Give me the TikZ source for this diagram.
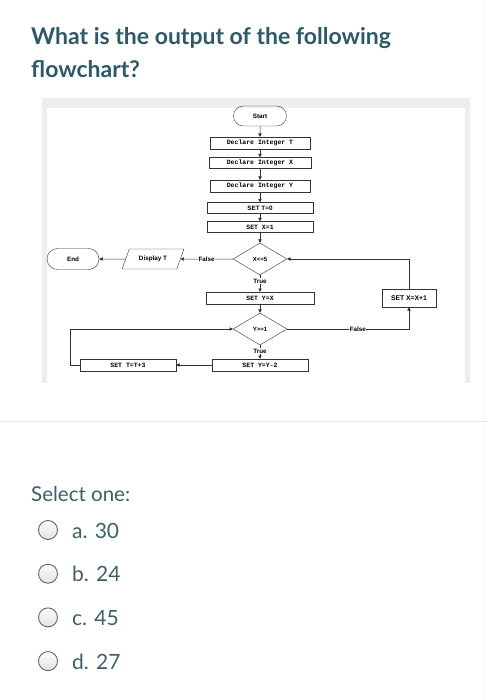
\documentclass[tikz,border=0pt]{standalone}
\usepackage{fontspec}
\setmainfont{Lato}
\newfontfamily\chartsans{Liberation Sans}
\newfontfamily\chartmono{Liberation Mono}
\usetikzlibrary{shapes.geometric,shapes.misc,arrows.meta}

\definecolor{titleteal}{HTML}{2D5A68}
\definecolor{bodyteal}{HTML}{3D5F6B}
\definecolor{framegray}{HTML}{EEEEEE}
\definecolor{linegray}{HTML}{333333}

\tikzset{
	terminal/.style={draw=linegray, rounded rectangle, minimum width=53pt, minimum height=20pt,
		inner sep=0pt, font=\chartsans\bfseries\fontsize{6.3}{7}\selectfont},
	monobox/.style={draw=linegray, rectangle, minimum height=12pt, inner sep=0pt,
		font=\chartmono\bfseries\fontsize{6.5}{7}\selectfont},
	sansbox/.style={draw=linegray, rectangle, minimum height=12pt, inner sep=0pt,
		font=\chartsans\bfseries\fontsize{6.3}{7}\selectfont},
	decision/.style={draw=linegray, diamond, minimum width=54pt, minimum height=32pt,
		inner sep=0pt, font=\chartsans\bfseries\fontsize{6}{7}\selectfont},
	iobox/.style={draw=linegray, trapezium, trapezium stretches=true,
		trapezium left angle=60, trapezium right angle=120,
		minimum width=62pt, minimum height=20pt, inner sep=1pt,
		font=\chartsans\bfseries\fontsize{6.3}{7}\selectfont},
	lbl/.style={fill=white, inner sep=0.5pt, font=\chartsans\bfseries\fontsize{6.3}{7}\selectfont},
	arr/.style={draw=linegray, line width=0.5pt, -{Triangle[length=3.3pt,width=3.3pt]}},
	radio/.style={draw=gray!80!black, circle, minimum size=19pt, inner sep=0pt, line width=0.9pt,
		top color=white, bottom color=gray!25},
}

\begin{document}
\begin{tikzpicture}[x=1pt, y=-1pt]
		\useasboundingbox (0,0) rectangle (489,700);
		\fill[white] (0,0) rectangle (489,700);
		\draw[gray!6] (483.5,0) -- (483.5,700);

		% question
		\node[anchor=base west, inner sep=0pt, text=titleteal, font=\bfseries\fontsize{23}{28}\selectfont]
			(question) at (31,45) {What is the output of the following};
		\node[anchor=base west, inner sep=0pt, text=titleteal, font=\bfseries\fontsize{23}{28}\selectfont]
			(question2) at (31,78) {flowchart?};

		% picture frame
		\fill[framegray] (42,98) rectangle (470,383);
		\fill[white] (47,108) rectangle (465,383);

		% flowchart
		\node[terminal] (start) at (260,116) {Start};
		\node[monobox, minimum width=100pt] (decT) at (260,143) {Declare Integer T};
		\node[monobox, minimum width=102pt, minimum height=11pt] (decX) at (260,163) {Declare Integer X};
		\node[monobox, minimum width=100pt] (decY) at (260,186) {Declare Integer Y};
		\node[sansbox, minimum width=106pt, minimum height=11pt] (setT) at (260,208) {SET T=0};
		\node[monobox, minimum width=106pt, minimum height=11pt] (setX) at (260,227) {SET X=1};
		\node[decision] (condX) at (260,259) {X<=5};
		\node[monobox, minimum width=108pt] (setY) at (260,298) {SET Y=X};
		\node[decision] (condY) at (260,329) {Y>=1};
		\node[monobox, minimum width=96pt] (setYY) at (260,365) {SET Y=Y-2};
		\node[monobox, minimum width=96pt] (setTT) at (128,365) {SET T=T+3};
		\node[sansbox, minimum width=54pt, minimum height=18pt, font=\chartsans\bfseries\fontsize{6.8}{8}\selectfont]
			(incX) at (409,298) {SET X=X+1};
		\node[iobox] (disp) at (153,259) {Display T};
		\node[terminal, minimum width=52pt, minimum height=21pt] (finish) at (73,259) {End};

		\draw[arr] (start) -- (decT);
		\draw[arr] (decT) -- (decX);
		\draw[arr] (decX) -- (decY);
		\draw[arr] (decY) -- (setT);
		\draw[arr] (setT) -- (setX);
		\draw[arr] (setX) -- (condX);
		\draw[arr] (condX) -- (setY);
		\node[lbl, anchor=north] (trueX) at ([yshift=-3pt]condX.south) {True};
		\draw[arr] (setY) -- (condY);
		\draw[arr] (condY) -- (setYY);
		\node[lbl, anchor=north] (trueY) at ([yshift=-3pt]condY.south) {True};
		\draw[arr] (setYY) -- (setTT);
		\draw[arr] (setTT.west) -- ++(-10,0) |- (condY.west);
		\draw[arr] (condY.east) -| node[lbl, pos=0.29] {False} (incX.south);
		\draw[arr] (incX.north) |- (condX.east);
		\draw[arr] (condX.west) -- node[lbl] {False} (disp.east);
		\draw[arr] (disp.west) -- (finish.east);

		% answers
		\draw[gray!20, line width=0.8pt] (0,421) -- (488,421);
		\node[anchor=base west, inner sep=0pt, text=bodyteal, font=\fontsize{20.5}{24}\selectfont]
			(select) at (31,501) {Select one:};
		\foreach \lab/\val [count=\i] in {a/30,b/24,c/45,d/27} {
			\node[radio] (radio\i) at (48,{530+(\i-1)*43.7}) {};
			\node[anchor=base west, inner sep=0pt, text=bodyteal, font=\fontsize{21}{25}\selectfont]
				(answer\i) at (72,{538+(\i-1)*43.7}) {\lab. \val};
		}
	\end{tikzpicture}
\end{document}
